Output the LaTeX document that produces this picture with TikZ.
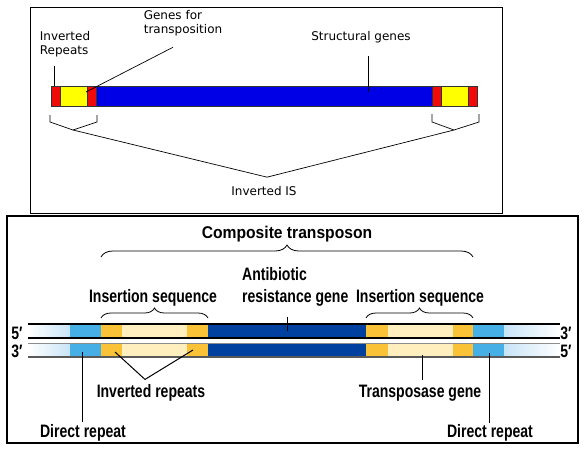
\documentclass[tikz,border=0pt]{standalone}
\usepackage{fontspec}
\setmainfont{DejaVu Sans}
\newfontfamily\condfont[FakeStretch=0.78]{Liberation Sans}
\newfontfamily\headfont[FakeStretch=0.92]{Liberation Sans}
\usetikzlibrary{calc,decorations.pathreplacing}

\definecolor{irred}{RGB}{240,10,10}
\definecolor{tpyellow}{RGB}{255,255,0}
\definecolor{tpblue}{RGB}{0,0,230}
\definecolor{drblue}{RGB}{70,175,230}
\definecolor{irorange}{RGB}{250,195,55}
\definecolor{tnpale}{RGB}{255,238,190}
\definecolor{abblue}{RGB}{0,65,160}
\definecolor{endblue}{RGB}{200,228,248}

\begin{document}
\begin{tikzpicture}[x=1pt,y=-1pt,
		frame/.style={draw=black,line width=1pt},
		seg/.style={draw=black!80,line width=0.5pt},
		toplab/.style={font=\fontsize{12}{14.5}\selectfont,inner sep=0pt,align=left},
		botlab/.style={font=\condfont\bfseries\fontsize{18}{22}\selectfont,inner sep=0pt,align=left},
		lead/.style={draw=black,line width=0.7pt},
		brc/.style={decorate,decoration={brace,amplitude=#1},draw=black,line width=0.8pt},
		brc/.default=10pt]
		\useasboundingbox (0,0) rectangle (585,448);
		
		% upper panel: insertion sequence
		\draw[frame] (30,7) rectangle (502,213);
		\foreach \a/\b/\c in {51/60/irred,60/87/tpyellow,87/96/irred,96/432/tpblue,432/441/irred,441/468/tpyellow,468/477/irred}
		\draw[seg,fill=\c] (\a,86) rectangle (\b,106);
		
		\node[toplab] (invrep) at (65,44) {Inverted\\Repeats};
		\node[toplab] (genes) at (183,23) {Genes for\\transposition};
		\node[toplab] (struct) at (361,37) {Structural genes};
		\node[toplab] (invis) at (264,191) {Inverted IS};
		
		\coordinate (ir) at (54,86);
		\coordinate (gt) at (86,92);
		\coordinate (sg) at (368,92);
		\draw[lead] ($(invrep.south -| ir)+(0,9)$) -- (ir);
		\draw[lead] ($(genes.south)+(-10,11)$) -- (gt);
		\draw[lead] ($(struct.south -| sg)+(0,13)$) -- (sg);
		
		\draw[lead] (50,115) -- (50,122) -- (73,130) coordinate (lb) -- (97,122) -- (97,115);
		\draw[lead] (432,114) -- (432,122) -- (454,130) coordinate (rb) -- (479,122) -- (479,114);
		\draw[lead] (lb) -- ($(invis.north)+(3,-9)$) -- (rb);
		
		% lower panel: composite transposon
		\draw[frame,line width=1.5pt] (7,216) rectangle (578,443);
		\foreach \ya/\yb in {324/338,343/357}{
			\shade[left color=white,right color=endblue] (28,\ya) rectangle (70,\yb);
			\foreach \a/\b/\c in {70/101/drblue,101/122/irorange,122/187/tnpale,187/208/irorange,208/366/abblue,366/388/irorange,388/453/tnpale,453/473/irorange,473/504/drblue}
			\fill[\c] (\a,\ya) rectangle (\b,\yb);
			\shade[left color=endblue,right color=white] (504,\ya) rectangle (560,\yb);
		}
		\draw[line width=1.2pt] (28,324) -- (560,324);
		\draw[line width=1.2pt] (28,338) -- (560,338);
		\draw[black!45,line width=0.8pt] (28,343) -- (560,343);
		\draw[black!65,line width=1.2pt] (28,357) -- (560,357);
		
		\node[botlab] (fivel) at (17,333) {5′};
		\node[botlab] (threel) at (17,351) {3′};
		\node[botlab] (threer) at (566,333) {3′};
		\node[botlab] (fiver) at (566,351) {5′};
		
		\node[font=\headfont\bfseries\fontsize{17}{20}\selectfont,inner sep=0pt] (comp) at (287,234) {Composite transposon};
		\draw[brc=12pt] (101,257) -- (473,257);
		\node[botlab] (isl) at (153,298) {Insertion sequence};
		\draw[brc] (101,318) -- (208,318);
		\node[botlab] (isr) at (420,298) {Insertion sequence};
		\draw[brc] (366,318) -- (473,318);
		\node[botlab,anchor=west] (abr) at (242,287) {Antibiotic\\resistance gene};
		
		\coordinate (abg) at (287,331);
		\coordinate (irl) at (115,352);
		\coordinate (irr) at (193,350);
		\coordinate (tpc) at (422,355);
		\coordinate (drlc) at (82,352);
		\coordinate (drrc) at (489,353);
		
		\node[botlab] (invr) at (151,393) {Inverted repeats};
		\node[botlab] (tpg) at (420,393) {Transposase gene};
		\node[botlab] (drl) at (83,433) {Direct repeat};
		\node[botlab] (drr) at (490,433) {Direct repeat};
		
		\draw[lead,line width=1pt] ($(abr.south -| abg)+(0,10)$) -- (abg);
		\draw[lead,line width=1pt] (irl) -- ($(invr.north)+(-6,-5)$) -- (irr);
		\draw[lead,line width=1pt] (tpc) -- ($(tpg.north -| tpc)+(0,-5)$);
		\draw[lead,line width=1pt] (drlc) -- ($(drl.north -| drlc)+(0,-2)$);
		\draw[lead,line width=1pt] (drrc) -- ($(drr.north -| drrc)+(0,-1)$);
		
	\end{tikzpicture}
\end{document}
